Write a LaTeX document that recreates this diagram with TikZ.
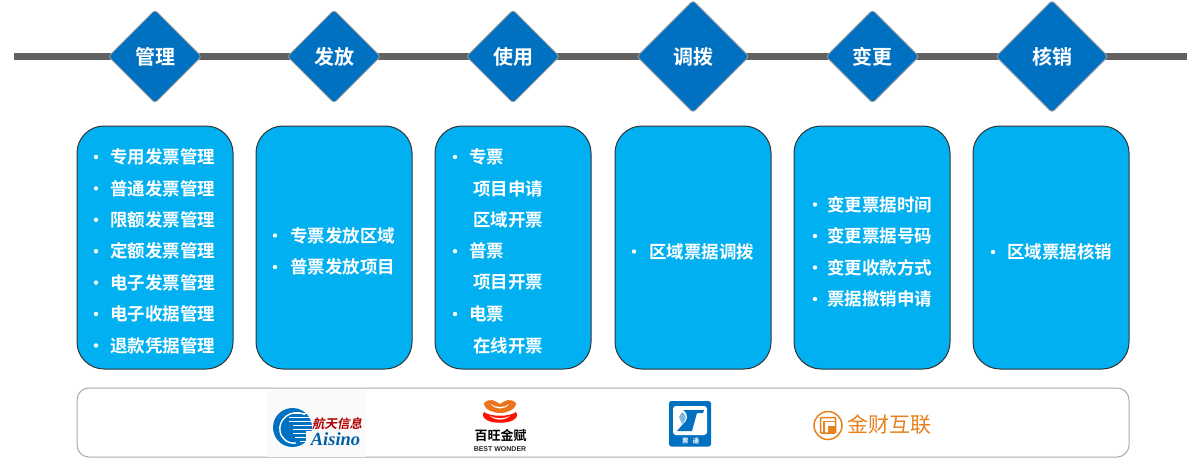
\documentclass[tikz,border=0pt]{standalone}
\usepackage{fontspec}
\setmainfont{Liberation Sans}
\newfontfamily\cjk{Noto Sans CJK SC}
\newfontfamily\cjkb{Noto Sans CJK SC Bold}
\newfontfamily\cjkbi{Noto Sans CJK SC Bold}[FakeSlant=0.2]
\definecolor{dblue}{RGB}{0,112,192}
\definecolor{lblue}{RGB}{0,176,240}
\definecolor{oran}{RGB}{232,128,30}
\tikzset{x=1pt,y=-1pt,
 card/.style={draw=black!80,line width=1pt,fill=lblue,rounded corners=27pt},
 tx/.style={text=white,font=\cjkb\fontsize{17.5}{17.5}\selectfont,inner sep=0pt,anchor=west},
 hd/.style={text=white,font=\cjkb\fontsize{20}{20}\selectfont,inner sep=0pt},
 bul/.style={circle,fill=white,inner sep=0pt,minimum size=4.4pt},
 lg/.style={inner sep=0pt}}
\newcommand{\dmd}[5]{\path[draw=gray!75,line width=.8pt,fill=dblue,rounded corners=3pt] (#1,#2-#3)--(#1+#3,#2)--(#1,#2+#3)--(#1-#3,#2)--cycle;\node[hd] (#5) at (#1,#2) {#4};}
% bullet x, text x, y, text
\newcommand{\itm}[4]{\node[bul] at (#1,#3) {};\node[tx] at (#2,#3) {#4};}
\begin{document}
\begin{tikzpicture}
\useasboundingbox (0,0) rectangle (1201,458);
\fill[white] (0,0) rectangle (1201,458);
\fill[black!62] (14,53) rectangle (1187,60);
\dmd{155}{56.5}{46.5}{管理}{d1}
\dmd{334}{56.5}{46.5}{发放}{d2}
\dmd{513}{56.5}{46.5}{使用}{d3}
\dmd{693}{56.5}{56}{调拨}{d4}
\dmd{872.5}{56.5}{46.5}{变更}{d5}
\dmd{1052}{56.5}{56}{核销}{d6}
\foreach \x in {77,256,435,615,794,973} {\draw[card] (\x,126) rectangle (\x+156,369);}
\itm{96}{110}{157}{专用发票管理}
\itm{96}{110}{188.4}{普通发票管理}
\itm{96}{110}{219.8}{限额发票管理}
\itm{96}{110}{251.2}{定额发票管理}
\itm{96}{110}{282.6}{电子发票管理}
\itm{96}{110}{314}{电子收据管理}
\itm{96}{110}{345.4}{退款凭据管理}
\itm{275}{290}{235.5}{专票发放区域}
\itm{275}{290}{267}{普票发放项目}
\itm{455}{469}{157}{专票}
\node[tx] at (473,188.4) {项目申请};
\node[tx] at (473,219.8) {区域开票};
\itm{455}{469}{251.2}{普票}
\node[tx] at (473,282.6) {项目开票};
\itm{455}{469}{314}{电票}
\node[tx] at (473,345.4) {在线开票};
\itm{634}{649}{251.5}{区域票据调拨}
\itm{815}{827}{204.5}{变更票据时间}
\itm{815}{827}{236}{变更票据号码}
\itm{815}{827}{267.5}{变更收款方式}
\itm{815}{827}{299}{票据撤销申请}
\itm{993}{1007}{252}{区域票据核销}
\draw[gray!65,line width=1pt,rounded corners=12pt] (77,388) rectangle (1129,457);
% Aisino logo
\fill[black!2] (267,390) rectangle (366,457);
\fill[dblue] (292.5,427.5) circle (19.5);
\draw[white,line width=1.4pt] (305,414.5) .. controls (290,408) and (278,420) .. (280,431) .. controls (281,439) and (288,444) .. (296,443);
\foreach \y/\xa in {413/291,417/289,421/289,425/293,429/293,433/293,437/295,441/300} {\fill[white] (\xa,\y) rectangle (313,\y+1.4);}
\fill[black!2] (306,431) rectangle (314,448);
\node[lg,text=red!70!black,font=\cjkbi\fontsize{12.5}{12.5}\selectfont] (ht) at (337,423.5) {航天信息};
\node[lg,text=dblue!85!black,font=\fontspec{Liberation Serif}\itshape\bfseries\fontsize{18.5}{18.5}\selectfont] (ai) at (335.5,439) {Aisino};
% Baiwang logo
\fill[oran!90!red] (484,403) .. controls (490,398) and (494,400) .. (500,404) .. controls (506,400) and (510,398) .. (516,403) .. controls (516,410) and (506,413) .. (500,413) .. controls (494,413) and (484,410) .. (484,403) -- cycle;
\fill[white] (491,404) .. controls (495,408) and (505,408) .. (509,404) .. controls (505,410) and (495,410) .. (491,404) -- cycle;
\fill[red!85!orange] (484,412) .. controls (490,417) and (510,417) .. (516,412) .. controls (519,416) and (516,420) .. (508,422) .. controls (503,423) and (497,423) .. (492,422) .. controls (484,420) and (481,416) .. (484,412) -- cycle;
\fill[white] (490,416) .. controls (496,419) and (504,419) .. (510,416) .. controls (504,421) and (496,421) .. (490,416) -- cycle;
\node[lg,text=black,font=\cjkb\fontsize{13}{13}\selectfont] (bw) at (500.5,435.5) {百旺金赋};
\node[lg,text=black!85,font=\bfseries\fontsize{7}{7}\selectfont] (bwe) at (500,449) {BEST WONDER};
% third logo
\fill[dblue,rounded corners=2.5pt] (669,401) rectangle (711,446.5);
\fill[white,rounded corners=3pt] (673,406) rectangle (707,435);
\fill[dblue] (683,410) -- (704,410) -- (703,413) -- (697,413) -- (692,431) -- (677,431) -- (683,424) .. controls (688,421) and (689,414) .. (683,410) -- cycle;
\fill[dblue!50] (682,412) .. controls (687,414) and (687,421) .. (682,424) -- (679,417) -- cycle;
\node[lg,text=white,font=\cjkb\fontsize{6.5}{6.5}\selectfont] (pt) at (690.5,441) {票\hspace{4pt}通};
% Jincai logo
\draw[oran,line width=1.5pt] (828,425.5) circle (14);
\draw[oran,line width=1.5pt,rounded corners=1pt] (820.5,417.5) rectangle (835.5,433);
\draw[oran,line width=1.2pt] (835.5,421.5) -- (824,421.5) -- (824,433);
\fill[oran] (828,426) rectangle (835.5,433);
\node[lg,text=oran,font=\cjk\fontsize{21}{21}\selectfont] (jc) at (889.5,425) {金财互联};
\end{tikzpicture}
\end{document}
